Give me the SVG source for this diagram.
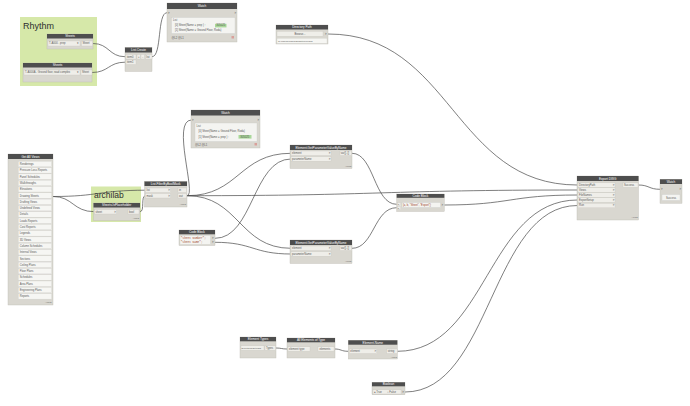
<svg xmlns="http://www.w3.org/2000/svg" width="690" height="406" viewBox="0 0 690 406">
<style>
text{font-family:"Liberation Sans",Arial,sans-serif}
.grp{fill:#d6e8a9}
.gt{font-size:8.5px;fill:#2e2e2e}
.nb{fill:#d9d7d0;stroke:#bebcb5;stroke-width:0.4}
.nh{fill:#4e4e4e}
.ht{font-size:3.1px;fill:#fff;text-anchor:middle}
.pb{fill:#efeee9;stroke:#c6c4bd;stroke-width:0.3}
.pt{font-size:2.7px;fill:#555}
.pr{font-size:2.7px;fill:#555;text-anchor:end}
.ft{font-size:2.3px;fill:#666;text-anchor:end}
.cb{fill:#f4f4f1;stroke:#c8c8c2;stroke-width:0.3}
.cs{font-size:2.8px;fill:#a0462a;font-family:"Liberation Mono",monospace}
.gr{fill:#a9d899}
.w{fill:none;stroke:#474747;stroke-width:0.7}
.li{fill:#f6f6f3;stroke:#cfcfca;stroke-width:0.3}
</style>
<rect width="690" height="406" fill="#ffffff"/>

<g id="group-rhythm">
<rect class="grp" x="20" y="17" width="77" height="69"/>
<text class="gt" x="23" y="29" style="font-size:9px">Rhythm</text>
</g>
<g id="group-archilab">
<rect class="grp" x="91" y="186.5" width="50" height="35.5"/>
<text class="gt" x="94" y="198">archilab</text>
</g>

<g id="connectors">
<path class="w" d="M93,43.5 C109,43.5 109,56.7 125,56.7"/>
<path class="w" d="M92,72.5 C108.5,72.5 108.5,62.2 125,62.2"/>
<path class="w" d="M152,56.7 C162,56.7 157,12.7 167,12.7"/>
<path class="w" d="M328,34 C452,34 453,185 577.5,185"/>
<path class="w" d="M53,196.5 C99,196.5 99,190.2 145.5,190.2"/>
<path class="w" d="M53,196.5 C73,196.5 73,211.7 94.5,211.7"/>
<path class="w" d="M140,211.7 C145,211.7 140.5,195.7 145.5,195.7"/>
<path class="w" d="M187,195.7 C197,195.7 171,120 191.5,120"/>
<path class="w" d="M187,195.7 C239,195.7 239,153.3 291,153.3"/>
<path class="w" d="M187,195.7 C239,195.7 239,248.3 291,248.3"/>
<path class="w" d="M187,195.7 C382,195.7 382,190 577.5,190"/>
<path class="w" d="M215,238.3 C253,238.3 253,159 291,159"/>
<path class="w" d="M215,242.3 C253,242.3 253,254 291,254"/>
<path class="w" d="M352,153.3 C374,153.3 374,204.3 396.7,204.3"/>
<path class="w" d="M352,248.3 C374,248.3 374,207.7 396.7,207.7"/>
<path class="w" d="M444.3,205 C510,205 510,195 577.5,195"/>
<path class="w" d="M276,348 C281.5,348 281.5,349 287,349"/>
<path class="w" d="M335,349 C341,349 341,351.3 348.3,351.3"/>
<path class="w" d="M397.3,351.3 C487,351.3 487,200 577.5,200"/>
<path class="w" d="M405,392 C491,392 491,205.5 577.5,205.5"/>
<path class="w" d="M638.5,185 C649,185 649,189.3 660,189.3"/>
</g>

<g id="node-sheets-1">
<rect class="nb" x="47" y="34" width="46" height="15"/>
<rect class="nh" x="47" y="34" width="46" height="4.5"/>
<text class="ht" x="70" y="37.3">Sheets</text>
<rect class="pb" x="48" y="41" width="32" height="5"/>
<text class="pt" x="49" y="44.4">T-A000 - prep</text>
<text class="pt" x="76.5" y="44.4">▾</text>
<rect class="pb" x="81.5" y="41" width="11" height="5"/>
<text class="pt" x="82.5" y="44.4">Sheet</text>
</g>

<g id="node-sheets-2">
<rect class="nb" x="23" y="63" width="69" height="19"/>
<rect class="nh" x="23" y="63" width="69" height="4.5"/>
<text class="ht" x="57.5" y="66.3">Sheets</text>
<rect class="pb" x="24" y="70" width="56" height="5"/>
<text class="pt" x="25" y="73.4">T-A000A - Ground floor, road complex</text>
<text class="pt" x="76.5" y="73.4">▾</text>
<rect class="pb" x="81" y="70" width="11" height="5"/>
<text class="pt" x="82" y="73.4">Sheet</text>
</g>

<g id="node-list-create">
<rect class="nb" x="125" y="47.5" width="27" height="24"/>
<rect class="nh" x="125" y="47.5" width="27" height="5"/>
<text class="ht" x="138.5" y="51.2">List.Create</text>
<rect class="pb" x="126" y="54.5" width="10" height="4.5"/>
<text class="pt" x="127" y="57.6">item0</text>
<rect class="pb" x="137" y="54.5" width="3.5" height="4.5"/>
<text class="pt" x="137.9" y="57.6">+</text>
<rect class="pb" x="141" y="54.5" width="3.5" height="4.5"/>
<text class="pt" x="142.2" y="57.6">-</text>
<rect class="pb" x="145.5" y="54.5" width="6.5" height="4.5"/>
<text class="pt" x="146.3" y="57.6">list</text>
<rect class="pb" x="126" y="60" width="10" height="4.5"/>
<text class="pt" x="127" y="63.1">item1</text>
</g>

<g id="node-watch-top">
<rect class="nb" x="167" y="3" width="70" height="39"/>
<rect class="nh" x="167" y="3" width="70" height="6"/>
<text class="ht" x="202" y="7.3">Watch</text>
<text class="pt" x="168" y="13.6">&gt;</text>
<text class="pt" x="234.5" y="13.6">&gt;</text>
<rect class="cb" x="171.5" y="17.5" width="63.5" height="16"/>
<text class="pt" x="173" y="21">List</text>
<text class="pt" x="175" y="26.4">[0] Sheet(Name = prep ) :</text>
<rect class="gr" x="215" y="23.8" width="11.5" height="3.6"/>
<text class="pt" x="216.3" y="26.4">305025</text>
<text class="pt" x="175" y="31.4">[1] Sheet(Name = Ground Floor, Roda)</text>
<text class="pt" x="171.5" y="38.6">@L2 @L1</text>
<rect x="231.5" y="36" width="2.5" height="2.5" fill="#d9a09a"/>
</g>

<g id="node-directory-path">
<rect class="nb" x="276" y="25" width="52" height="19"/>
<rect class="nh" x="276" y="25" width="52" height="4.5"/>
<text class="ht" x="302" y="28.3">Directory Path</text>
<rect class="pb" x="277" y="31.3" width="46" height="5"/>
<text class="pt" x="300" y="34.7" style="text-anchor:middle">Browse...</text>
<text class="pt" x="325" y="34.9">&gt;</text>
<rect class="li" x="277" y="38.3" width="50" height="5"/>
<text class="pt" x="278" y="41.7" style="font-size:2.5px">C:\Users\Ulises\Desktop\Ulises</text>
</g>

<g id="node-get-all-views">
<rect class="nb" x="8" y="154" width="45" height="151"/>
<rect class="nh" x="8" y="154" width="45" height="5"/>
<text class="ht" x="30.5" y="157.6">Get All Views</text>
<rect class="li" x="18.3" y="161.3" width="33.4" height="5.5"/>
<rect class="li" x="18.3" y="167.6" width="33.4" height="5.5"/>
<rect class="li" x="18.3" y="173.9" width="33.4" height="5.5"/>
<rect class="li" x="18.3" y="180.2" width="33.4" height="5.5"/>
<rect class="li" x="18.3" y="186.5" width="33.4" height="5.5"/>
<rect class="li" x="18.3" y="192.8" width="33.4" height="5.5"/>
<rect class="li" x="18.3" y="199.1" width="33.4" height="5.5"/>
<rect class="li" x="18.3" y="205.4" width="33.4" height="5.5"/>
<rect class="li" x="18.3" y="211.7" width="33.4" height="5.5"/>
<rect class="li" x="18.3" y="218" width="33.4" height="5.5"/>
<rect class="li" x="18.3" y="224.3" width="33.4" height="5.5"/>
<rect class="li" x="18.3" y="230.6" width="33.4" height="5.5"/>
<rect class="li" x="18.3" y="236.9" width="33.4" height="5.5"/>
<rect class="li" x="18.3" y="243.2" width="33.4" height="5.5"/>
<rect class="li" x="18.3" y="249.5" width="33.4" height="5.5"/>
<rect class="li" x="18.3" y="255.8" width="33.4" height="5.5"/>
<rect class="li" x="18.3" y="262.1" width="33.4" height="5.5"/>
<rect class="li" x="18.3" y="268.4" width="33.4" height="5.5"/>
<rect class="li" x="18.3" y="274.7" width="33.4" height="5.5"/>
<rect class="li" x="18.3" y="281" width="33.4" height="5.5"/>
<rect class="li" x="18.3" y="287.3" width="33.4" height="5.5"/>
<rect class="li" x="18.3" y="293.6" width="33.4" height="5.5"/>
<text class="pt" x="19.8" y="165">Renderings</text>
<text class="pt" x="19.8" y="171.3">Pressure Loss Reports</text>
<text class="pt" x="19.8" y="177.6">Panel Schedules</text>
<text class="pt" x="19.8" y="183.9">Walkthroughs</text>
<text class="pt" x="19.8" y="190.2">Elevations</text>
<text class="pt" x="19.8" y="196.5">Drawing Sheets</text>
<text class="pt" x="19.8" y="202.8">Drafting Views</text>
<text class="pt" x="19.8" y="209.1">Undefined Views</text>
<text class="pt" x="19.8" y="215.4">Details</text>
<text class="pt" x="19.8" y="221.7">Loads Reports</text>
<text class="pt" x="19.8" y="228">Cost Reports</text>
<text class="pt" x="19.8" y="234.3">Legends</text>
<text class="pt" x="19.8" y="240.6">3D Views</text>
<text class="pt" x="19.8" y="246.9">Column Schedules</text>
<text class="pt" x="19.8" y="253.2">Internal Views</text>
<text class="pt" x="19.8" y="259.5">Sections</text>
<text class="pt" x="19.8" y="265.8">Ceiling Plans</text>
<text class="pt" x="19.8" y="272.1">Floor Plans</text>
<text class="pt" x="19.8" y="278.4">Schedules</text>
<text class="pt" x="19.8" y="284.7">Area Plans</text>
<text class="pt" x="19.8" y="291">Engineering Plans</text>
<text class="pt" x="19.8" y="297.3">Reports</text>
<text class="ft" x="51.5" y="303.2">AUTO</text>
</g>

<g id="node-is-placeholder">
<rect class="nb" x="93.5" y="203" width="46.5" height="17.5"/>
<rect class="nh" x="93.5" y="203" width="46.5" height="4.5"/>
<text class="ht" x="116.7" y="206.3">Sheets.IsPlaceholder</text>
<rect class="pb" x="94.5" y="209.5" width="22" height="4.5"/>
<text class="pt" x="95.5" y="212.6">sheet</text>
<text class="pr" x="115.8" y="212.6">&gt;</text>
<rect class="pb" x="128" y="209.5" width="11" height="4.5"/>
<text class="pt" x="129" y="212.6">bool</text>
<text class="ft" x="139" y="219.2">AUTO</text>
</g>

<g id="node-filter-by-bool-mask">
<rect class="nb" x="144.5" y="181.5" width="42.5" height="25.5"/>
<rect class="nh" x="144.5" y="181.5" width="42.5" height="4.5"/>
<text class="ht" x="165.7" y="184.8">List.FilterByBoolMask</text>
<rect class="pb" x="145.5" y="188" width="25" height="4.5"/>
<text class="pt" x="146.5" y="191.1">list</text>
<text class="pr" x="169.8" y="191.1">&gt;</text>
<rect class="pb" x="145.5" y="193.5" width="25" height="4.5"/>
<text class="pt" x="146.5" y="196.6">mask</text>
<text class="pr" x="169.8" y="196.6">&gt;</text>
<rect class="pb" x="178" y="188" width="8.5" height="4.5"/>
<text class="pt" x="179" y="191.1">in</text>
<rect class="pb" x="178" y="193.5" width="8.5" height="4.5"/>
<text class="pt" x="179" y="196.6">out</text>
<text class="ft" x="186" y="205.2">AUTO</text>
</g>

<g id="node-watch-middle">
<rect class="nb" x="191" y="110" width="69" height="38"/>
<rect class="nh" x="191" y="110" width="69" height="5.5"/>
<text class="ht" x="225.5" y="114">Watch</text>
<text class="pt" x="192" y="121">&gt;</text>
<text class="pt" x="257.5" y="121">&gt;</text>
<rect class="cb" x="195" y="123" width="62" height="18.5"/>
<text class="pt" x="196.5" y="126.6">List</text>
<text class="pt" x="198.5" y="132">[0] Sheet(Name = Ground Floor, Roda)</text>
<text class="pt" x="198.5" y="137.6">[1] Sheet(Name = prep ) :</text>
<rect class="gr" x="238.5" y="135" width="13" height="3.6"/>
<text class="pt" x="240.3" y="137.6">305025</text>
<text class="pt" x="195" y="145.6">@L2 @L1</text>
<rect x="254.5" y="143" width="2.5" height="2.5" fill="#d9a09a"/>
</g>

<g id="node-getparam-top">
<rect class="nb" x="290" y="145" width="62" height="23.5"/>
<rect class="nh" x="290" y="145" width="62" height="5"/>
<text class="ht" x="321" y="148.6">Element.GetParameterValueByName</text>
<rect class="pb" x="291" y="151" width="40" height="4.5"/>
<text class="pt" x="292" y="154.1">element</text>
<text class="pr" x="330.3" y="154.1">&gt;</text>
<rect class="pb" x="291" y="156.7" width="40" height="4.5"/>
<text class="pt" x="292" y="159.8">parameterName</text>
<text class="pr" x="330.3" y="159.8">&gt;</text>
<rect class="pb" x="340" y="151" width="11.5" height="4.5"/>
<text class="pt" x="340.7" y="154.1">var[]..[]</text>
<text class="ft" x="351.3" y="166.8">AUTO</text>
</g>

<g id="node-getparam-bottom">
<rect class="nb" x="290" y="240" width="62" height="23.5"/>
<rect class="nh" x="290" y="240" width="62" height="5"/>
<text class="ht" x="321" y="243.6">Element.GetParameterValueByName</text>
<rect class="pb" x="291" y="246" width="40" height="4.5"/>
<text class="pt" x="292" y="249.1">element</text>
<text class="pr" x="330.3" y="249.1">&gt;</text>
<rect class="pb" x="291" y="251.7" width="40" height="4.5"/>
<text class="pt" x="292" y="254.8">parameterName</text>
<text class="pr" x="330.3" y="254.8">&gt;</text>
<rect class="pb" x="340" y="246" width="11.5" height="4.5"/>
<text class="pt" x="340.7" y="249.1">var[]..[]</text>
<text class="ft" x="351.3" y="261.8">AUTO</text>
</g>

<g id="node-code-block-left">
<rect class="nb" x="179" y="230" width="36" height="15.5"/>
<rect class="nh" x="179" y="230" width="36" height="4.3"/>
<text class="ht" x="197" y="233.2">Code Block</text>
<rect class="cb" x="180" y="235.4" width="30.5" height="9"/>
<text class="cs" x="180.8" y="239.2">"Sheet Number";</text>
<text class="cs" x="180.8" y="243.3">"Sheet Name";</text>
<text class="pt" x="212" y="239.2">&gt;</text>
<text class="pt" x="212" y="243.3">&gt;</text>
</g>

<g id="node-code-block-right">
<rect class="nb" x="396.7" y="194" width="47.6" height="17.5"/>
<rect class="nh" x="396.7" y="194" width="47.6" height="3.8"/>
<text class="ht" x="420.5" y="196.9">Code Block</text>
<rect class="pb" x="397.3" y="202.6" width="3.5" height="3.2"/>
<text class="pt" x="397.7" y="205.2" style="font-size:2.3px">a</text>
<rect class="pb" x="397.3" y="206.2" width="3.5" height="3.2"/>
<text class="pt" x="397.7" y="208.8" style="font-size:2.3px">b</text>
<rect class="cb" x="402" y="202.5" width="38.5" height="5"/>
<text class="cs" x="403" y="206" style="font-size:2.7px;font-family:'Liberation Sans',Arial,sans-serif">[a, b, "Sheet", "Export"];</text>
<text class="pt" x="441.5" y="206">&gt;</text>
</g>

<g id="node-export-dwg">
<rect class="nb" x="577" y="176" width="61.5" height="44"/>
<rect class="nh" x="577" y="176" width="61.5" height="5"/>
<text class="ht" x="607.7" y="179.6">Export DWG</text>
<rect class="pb" x="578" y="182.8" width="37" height="4.5"/>
<text class="pt" x="579" y="185.9">DirectoryPath</text>
<text class="pr" x="614.3" y="185.9">&gt;</text>
<rect class="pb" x="578" y="187.8" width="37" height="4.5"/>
<text class="pt" x="579" y="190.9">Views</text>
<text class="pr" x="614.3" y="190.9">&gt;</text>
<rect class="pb" x="578" y="192.8" width="37" height="4.5"/>
<text class="pt" x="579" y="195.9">FileNames</text>
<text class="pr" x="614.3" y="195.9">&gt;</text>
<rect class="pb" x="578" y="197.8" width="37" height="4.5"/>
<text class="pt" x="579" y="200.9">ExportSetup</text>
<text class="pr" x="614.3" y="200.9">&gt;</text>
<rect class="pb" x="578" y="203.3" width="37" height="4.5"/>
<text class="pt" x="579" y="206.4">Run</text>
<text class="pr" x="614.3" y="206.4">&gt;</text>
<rect class="pb" x="623" y="182.8" width="15" height="4.5"/>
<text class="pt" x="624" y="185.9">Success</text>
<text class="ft" x="637.8" y="218.3">AUTO</text>
</g>

<g id="node-watch-right">
<rect class="nb" x="660" y="179.3" width="22" height="24"/>
<rect class="nh" x="660" y="179.3" width="22" height="4.7"/>
<text class="ht" x="671" y="182.7">Watch</text>
<text class="pt" x="661" y="190.2">&gt;</text>
<text class="pt" x="679.5" y="190.2">&gt;</text>
<rect class="cb" x="662" y="194.5" width="18" height="6"/>
<text class="pt" x="671" y="198.5" style="text-anchor:middle">Success</text>
</g>

<g id="node-element-types">
<rect class="nb" x="240" y="337" width="36" height="21"/>
<rect class="nh" x="240" y="337" width="36" height="4.3"/>
<text class="ht" x="258" y="340.2">Element Types</text>
<rect class="pb" x="241" y="345.8" width="23" height="4.5"/>
<text class="pt" x="241.5" y="348.9" style="font-size:2.05px">ExportDWGSettings ▾</text>
<rect class="pb" x="265" y="345.8" width="10.5" height="4.5"/>
<text class="pt" x="265.9" y="348.9">Types</text>
</g>

<g id="node-all-elements-of-type">
<rect class="nb" x="287" y="338" width="48" height="20"/>
<rect class="nh" x="287" y="338" width="48" height="4.3"/>
<text class="ht" x="311" y="341.2">All Elements of Type</text>
<rect class="pb" x="288" y="346.8" width="22" height="4.5"/>
<text class="pt" x="289" y="349.9">element type</text>
<rect class="pb" x="318" y="346.8" width="16" height="4.5"/>
<text class="pt" x="319.5" y="349.9">elements</text>
</g>

<g id="node-element-name">
<rect class="nb" x="348.3" y="340.3" width="49" height="18.7"/>
<rect class="nh" x="348.3" y="340.3" width="49" height="4.4"/>
<text class="ht" x="372.8" y="343.6">Element.Name</text>
<rect class="pb" x="349.3" y="349" width="27.4" height="4.5"/>
<text class="pt" x="350.3" y="352.1">element</text>
<text class="pr" x="376" y="352.1">&gt;</text>
<rect class="pb" x="386.7" y="349" width="10.6" height="4.5"/>
<text class="pt" x="387.7" y="352.1">string</text>
<text class="ft" x="397" y="357.6">AUTO</text>
</g>

<g id="node-boolean">
<rect class="nb" x="372" y="382.3" width="33" height="12.5"/>
<rect class="nh" x="372" y="382.3" width="33" height="4"/>
<text class="ht" x="388.5" y="385.3">Boolean</text>
<rect class="pb" x="373" y="389.8" width="28" height="4.2"/>
<text class="pt" x="374" y="392.9">● True</text>
<text class="pt" x="387" y="392.9">○ False</text>
<text class="pt" x="402.3" y="392.9">&gt;</text>
</g>
</svg>
